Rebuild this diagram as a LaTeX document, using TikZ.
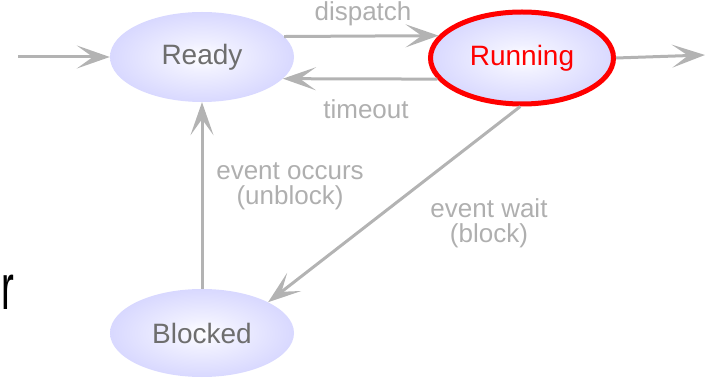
\documentclass[tikz,border=0pt]{standalone}
\usepackage{fontspec}
\setmainfont{Liberation Sans}
\newfontfamily\rfont[FakeStretch=0.6]{Liberation Sans}
\usetikzlibrary{arrows.meta,shapes.geometric}
\definecolor{lav}{RGB}{204,204,255}
\definecolor{arrowgray}{RGB}{179,179,179}
\definecolor{labelgray}{RGB}{175,175,175}
\definecolor{textgray}{RGB}{110,110,110}
\definecolor{runred}{RGB}{255,0,0}
\pgfdeclareradialshading{ellshade}{\pgfpointorigin}{color(0bp)=(white); color(8bp)=(white!70!lav); color(34bp)=(lav); color(50bp)=(lav)}
\begin{document}
\begin{tikzpicture}[x=1pt,y=-1pt,
  state/.style={ellipse, shading=ellshade, inner sep=0pt, text=textgray,
    font=\fontsize{28}{32}\selectfont},
  conn/.style={draw=arrowgray, line width=3pt,
    -{Stealth[length=33pt,width=23pt,inset=16pt]}},
  lbl/.style={text=labelgray, inner sep=0pt, align=center,
    font=\fontsize{26}{25}\selectfont}]
\useasboundingbox (0,0) rectangle (707,379);
% states
\node[state, minimum width=184pt, minimum height=90pt] (ready) at (202,57) {Ready};
\node[state, minimum width=183pt, minimum height=92pt, draw=runred, line width=5pt, text=runred] (running) at (522,58) {Running};
\node[state, minimum width=184pt, minimum height=88pt] (blocked) at (202,333) {Blocked};
% free ends
\coordinate (start) at (18,57);
\coordinate (exit) at (705,55);
% connectors
\draw[conn] (start) -- (ready.west);
\draw[conn] (running.east) -- (exit);
\draw[conn] (ready.14.5) -- (running.165.5);
\draw[conn] (running.194) -- (ready.345);
\draw[conn] (running.268) -- (blocked.25);
\draw[conn] (blocked.north) -- (ready.south);
% labels
\node[lbl, anchor=base] (ldispatch) at (363,21) {dispatch};
\node[lbl, anchor=base] (ltimeout) at (366,119) {timeout};
\node[lbl] (loccurs) at (290,186) {event occurs\\(unblock)};
\node[lbl] (lwait) at (489,223) {event wait\\(block)};
% stray letter
\node[anchor=base west, inner sep=0pt, font=\rfont\fontsize{64}{70}\selectfont] (rr) at (1,310) {r};
\end{tikzpicture}
\end{document}
